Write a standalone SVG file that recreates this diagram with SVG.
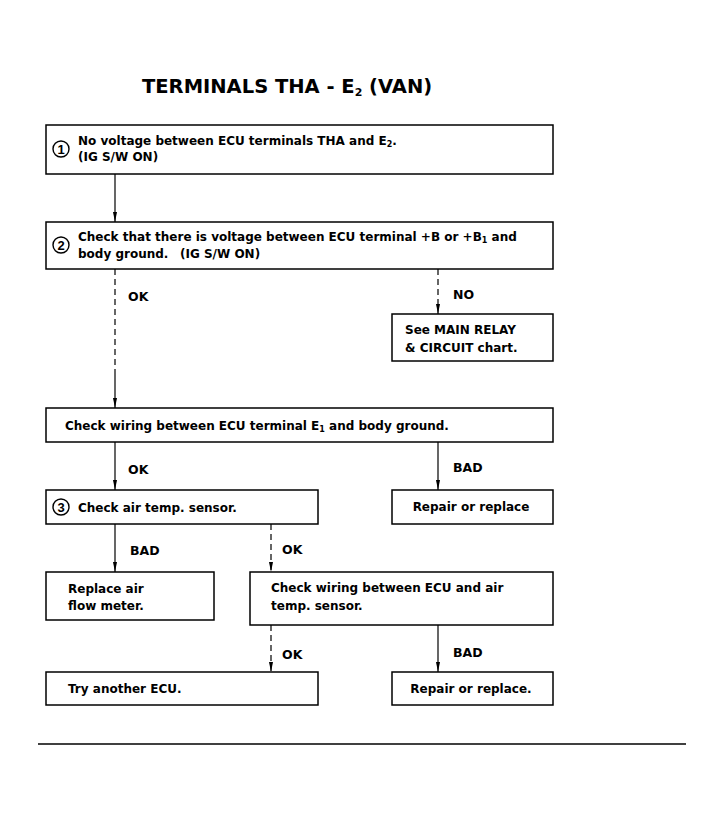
<svg xmlns="http://www.w3.org/2000/svg" width="724" height="821" viewBox="0 0 724 821">
<defs>
<marker id="ah" viewBox="0 0 10 6" refX="10" refY="3" markerWidth="10" markerHeight="6" markerUnits="userSpaceOnUse" orient="auto">
<path d="M0,1 L10,3 L0,5 Z" fill="#000"/>
</marker>
</defs>
<style>
.box{fill:#fff;stroke:#000;stroke-width:1.5}
.t{font-family:"DejaVu Sans",Verdana,sans-serif;font-size:12px;font-weight:bold;fill:#000}
.n{font-family:"Liberation Sans",Arial,sans-serif;font-size:13px;font-weight:bold;fill:#000}
.c{font-family:"DejaVu Sans",Verdana,sans-serif;font-size:12.5px;font-weight:bold;fill:#000}
.ln{fill:none;stroke:#000;stroke-width:1.2}
.dash{fill:none;stroke:#000;stroke-width:1.2;stroke-dasharray:6 4}
.circ{fill:none;stroke:#000;stroke-width:1.4}
</style>
<rect width="724" height="821" fill="#fff"/>
<text x="142" y="93" font-family="DejaVu Sans,Verdana,sans-serif" font-size="19.5" font-weight="bold">TERMINALS THA - E<tspan font-size="11" dy="3">2</tspan><tspan dy="-3"> (VAN)</tspan></text>

<g id="connectors">
<line class="ln" x1="115" y1="174" x2="115" y2="222" marker-end="url(#ah)"/>
<line class="dash" x1="115" y1="269" x2="115" y2="370"/>
<line class="ln" x1="115" y1="370" x2="115" y2="408" marker-end="url(#ah)"/>
<line class="dash" x1="438" y1="269" x2="438" y2="300"/>
<line class="ln" x1="438" y1="300" x2="438" y2="314" marker-end="url(#ah)"/>
<line class="ln" x1="115" y1="442" x2="115" y2="490" marker-end="url(#ah)"/>
<line class="ln" x1="438" y1="442" x2="438" y2="490" marker-end="url(#ah)"/>
<line class="ln" x1="115" y1="524" x2="115" y2="572" marker-end="url(#ah)"/>
<line class="dash" x1="271" y1="524" x2="271" y2="572" marker-end="url(#ah)"/>
<line class="dash" x1="271" y1="625" x2="271" y2="672" marker-end="url(#ah)"/>
<line class="ln" x1="438" y1="625" x2="438" y2="672" marker-end="url(#ah)"/>
<text class="c" x="128" y="301">OK</text>
<text class="c" x="453" y="299">NO</text>
<text class="c" x="128" y="474">OK</text>
<text class="c" x="453" y="472">BAD</text>
<text class="c" x="130" y="555">BAD</text>
<text class="c" x="282" y="554">OK</text>
<text class="c" x="282" y="659">OK</text>
<text class="c" x="453" y="657">BAD</text>
</g>

<g id="n1">
<rect class="box" x="46" y="125" width="507" height="49"/>
<circle class="circ" cx="61" cy="149" r="8"/>
<text class="n" x="61" y="154" text-anchor="middle">1</text>
<text class="t" x="78" y="145">No voltage between ECU terminals THA and E<tspan font-size="8" dy="2">2</tspan><tspan dy="-2">.</tspan></text>
<text class="t" x="78" y="161">(IG S/W ON)</text>
</g>

<g id="n2">
<rect class="box" x="46" y="222" width="507" height="47"/>
<circle class="circ" cx="61" cy="245" r="8"/>
<text class="n" x="61" y="250" text-anchor="middle">2</text>
<text class="t" x="78" y="241">Check that there is voltage between ECU terminal +B or +B<tspan font-size="8" dy="2">1</tspan><tspan dy="-2"> and</tspan></text>
<text class="t" x="78" y="258">body ground.<tspan x="180">(IG S/W ON)</tspan></text>
</g>

<g id="n3">
<rect class="box" x="392" y="314" width="161" height="47"/>
<text class="t" x="405" y="334" font-size="13.5">See MAIN RELAY</text>
<text class="t" x="405" y="352" font-size="13.5">&amp; CIRCUIT chart.</text>
</g>

<g id="n4">
<rect class="box" x="46" y="408" width="507" height="34"/>
<text class="t" x="65" y="430">Check wiring between ECU terminal E<tspan font-size="8" dy="2">1</tspan><tspan dy="-2">  and body ground.</tspan></text>
</g>

<g id="n5">
<rect class="box" x="46" y="490" width="272" height="34"/>
<circle class="circ" cx="61" cy="507" r="8"/>
<text class="n" x="61" y="512" text-anchor="middle">3</text>
<text class="t" x="78" y="512">Check air temp. sensor.</text>
</g>

<g id="n6">
<rect class="box" x="392" y="490" width="161" height="34"/>
<text class="t" x="471" y="511" text-anchor="middle">Repair or replace</text>
</g>

<g id="n7">
<rect class="box" x="46" y="572" width="168" height="48"/>
<text class="t" x="68" y="593">Replace air</text>
<text class="t" x="68" y="610">flow meter.</text>
</g>

<g id="n8">
<rect class="box" x="250" y="572" width="303" height="53"/>
<text class="t" x="271" y="592">Check wiring between ECU and air</text>
<text class="t" x="271" y="610">temp. sensor.</text>
</g>

<g id="n9">
<rect class="box" x="46" y="672" width="272" height="33"/>
<text class="t" x="68" y="693">Try another ECU.</text>
</g>

<g id="n10">
<rect class="box" x="392" y="672" width="161" height="33"/>
<text class="t" x="471" y="693" text-anchor="middle">Repair or replace.</text>
</g>

<line x1="38" y1="744" x2="686" y2="744" stroke="#000" stroke-width="1.3"/>
</svg>
